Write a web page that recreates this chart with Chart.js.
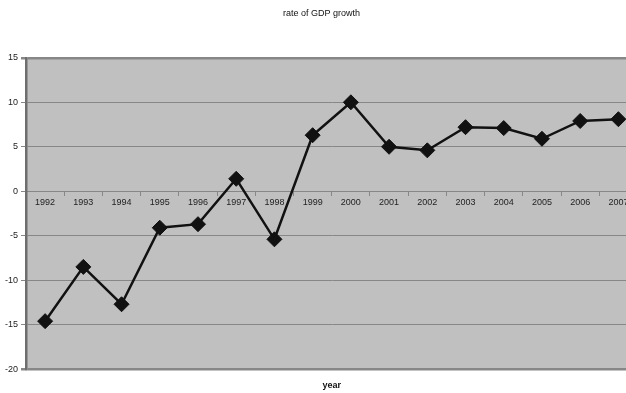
<!DOCTYPE html>
<html>
<head>
<meta charset="utf-8">
<script src="https://cdn.jsdelivr.net/npm/chart.js@4/dist/chart.umd.min.js"></script>
<style>
  html, body { margin: 0; padding: 0; background: #fff; overflow: hidden; }
  #wrap { width: 626px; height: 393px; overflow: hidden; }
  canvas { display: block; }
</style>
</head>
<body>
<div id="wrap"><canvas id="gdp" width="646" height="393"></canvas></div>
<script>
// annual rate of GDP growth, %
const years = ["1992", "1993", "1994", "1995", "1996", "1997", "1998", "1999",
               "2000", "2001", "2002", "2003", "2004", "2005", "2006", "2007"];
const growth = [-14.6, -8.5, -12.7, -4.1, -3.7, 1.4, -5.4, 6.3,
                10.0, 5.0, 4.6, 7.2, 7.1, 5.9, 7.9, 8.1];
const yTicks = [-20, -15, -10, -5, 0, 5, 10, 15];

const gridGray = "#878787";
const fontFam = "'Liberation Sans', Arial, sans-serif";

// grey plot area behind the series
const plotBg = {
  id: "plotBg",
  beforeDraw(chart) {
    const { ctx, chartArea: a } = chart;
    ctx.save();
    ctx.fillStyle = "#c0c0c0";
    ctx.fillRect(a.left, a.top, a.right - a.left, a.bottom - a.top);
    ctx.restore();
  }
};

new Chart(document.getElementById("gdp"), {
  type: "line",
  data: {
    labels: years,
    datasets: [{
      label: "rate of GDP growth",
      data: growth,
      borderColor: "#111",
      borderWidth: 2.5,
      tension: 0,
      pointStyle: "rectRot",
      pointRadius: 7.5,
      pointBackgroundColor: "#111",
      pointBorderColor: "#111",
      pointBorderWidth: 1
    }]
  },
  options: {
    responsive: false,
    animation: false,
    layout: { padding: { left: 0, right: 3, top: 0, bottom: 0 } },
    plugins: {
      legend: { display: false },
      tooltip: { enabled: false },
      title: {
        display: true,
        text: "rate of GDP growth",
        color: "#111",
        font: { family: fontFam, size: 9, weight: "normal" },
        padding: { top: 8, bottom: 39 }
      }
    },
    scales: {
      // year labels sit on the zero line
      x: {
        type: "category",
        position: { y: 0 },
        offset: true,
        grid: {
          offset: true,
          drawOnChartArea: false,
          drawTicks: true,
          tickLength: 4,
          color: gridGray
        },
        border: { display: true, color: gridGray, width: 1 },
        ticks: {
          color: "#222",
          padding: 2,
          maxRotation: 0,
          autoSkip: false,
          font: { family: fontFam, size: 9 }
        }
      },
      // bottom axis only carries the "year" title, centred on the plot
      xTitle: {
        type: "category",
        position: "bottom",
        offset: true,
        grid: { display: false, drawTicks: false },
        border: { display: false },
        ticks: { display: false },
        title: {
          display: true,
          text: "year",
          color: "#111",
          font: { family: fontFam, size: 9, weight: "bold" },
          padding: { top: 11, bottom: 2 }
        }
      },
      y: {
        min: -20,
        max: 15,
        afterFit(scale) { scale.width = 26; },
        afterBuildTicks(scale) { scale.ticks = yTicks.map(v => ({ value: v })); },
        grid: {
          color: gridGray,
          lineWidth: ctx => (ctx.tick && (ctx.tick.value === 15 || ctx.tick.value === -20)) ? 2.5 : 1,
          tickLength: 5
        },
        border: { display: true, color: "#6e6e6e", width: 2.5 },
        ticks: {
          color: "#222",
          padding: 3,
          font: { family: fontFam, size: 9 }
        }
      }
    }
  },
  plugins: [plotBg]
});
</script>
</body>
</html>
